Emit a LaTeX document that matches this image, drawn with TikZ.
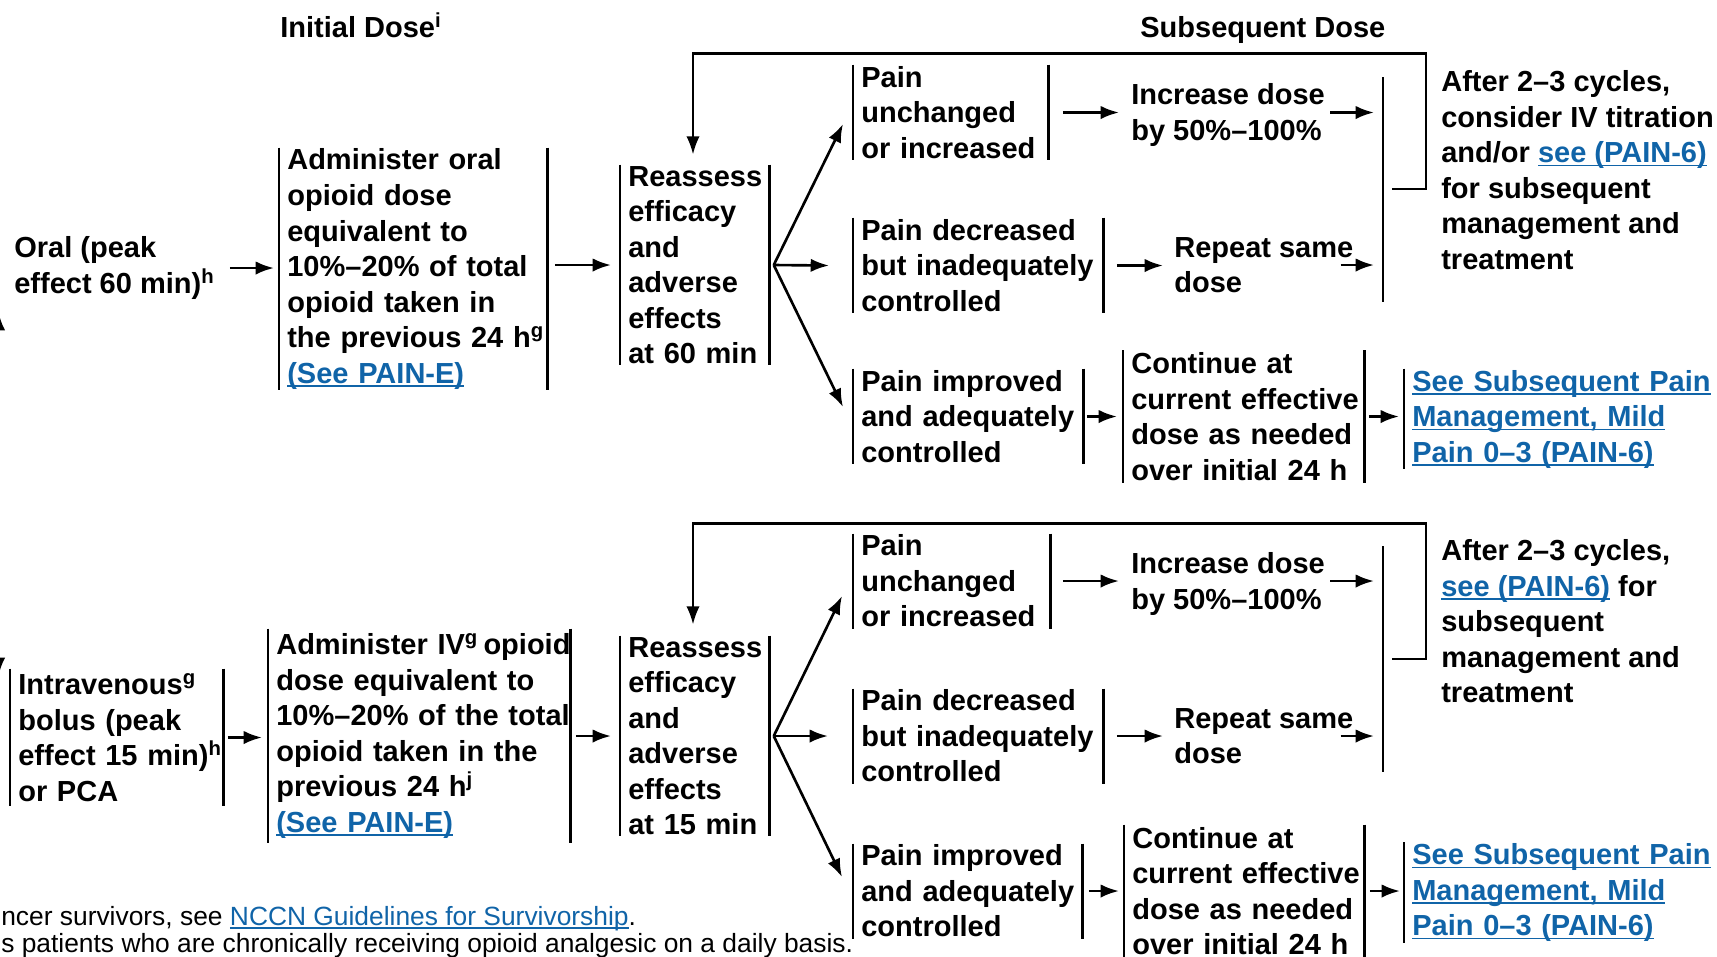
\documentclass[tikz,border=0pt]{standalone}
\usepackage{fontspec}
\setmainfont{Liberation Sans}
\usetikzlibrary{arrows.meta,calc}
\definecolor{nccnblue}{RGB}{16,100,168}
\newcommand\fsz{\fontsize{8.25}{10.1}\selectfont}
\newcommand\fnsz{\fontsize{7.5}{7.7}\selectfont}
\newcommand\lnk[1]{\leavevmode{\color{nccnblue}\setbox0\hbox{#1}\rlap{\rule[-1.1pt]{\wd0}{0.5pt}}\box0}}
\tikzset{
  txt/.style={font=\bfseries\fsz, align=left, inner sep=0pt},
  barline/.style={-, line width=0.75pt},
  barbox/.style={txt, anchor=west, inner xsep=0.07cm, text width=#1,
    append after command={(\tikzlastnode.north west) edge[barline] (\tikzlastnode.south west)
      ([xshift=-0.2cm]\tikzlastnode.north east) edge[barline] ([xshift=-0.2cm]\tikzlastnode.south east)}},
  lbox/.style={txt, anchor=west, inner xsep=0.07cm, text width=#1,
    append after command={(\tikzlastnode.north west) edge[barline] (\tikzlastnode.south west)}},
}
\begin{document}
\begin{tikzpicture}[x=0.01cm, y=-0.01cm, >={Latex[length=5.2pt,width=3.8pt]}, line width=0.75pt]
\useasboundingbox (0,0) rectangle (1717,956);
\clip (0,0) rectangle (1717,956);

\node[txt, anchor=base west] (hdrI) at (279,37) {Initial Dose\textsuperscript{i}};
\node[txt, anchor=base west] (hdrS) at (1139,37) {Subsequent Dose};

% oral
\node[txt, anchor=west] (oral) at (13,268) {Oral (peak\\effect 60 min)\textsuperscript{h}};
\node[barbox=2.72cm, minimum height=2.39cm] (admO) at (279,269) {Administer oral\\opioid dose\\equivalent to\\10\%--20\% of total\\opioid taken in\\the previous 24 h\textsuperscript{g}\\\lnk{(See PAIN-E)}};
\node[barbox=1.53cm, minimum height=1.98cm] (reaO) at (620,265) {Reassess\\efficacy\\and\\adverse\\effects\\at 60 min};
\node[barbox=1.99cm, minimum height=0.93cm] (unchO) at (853,112.5) {Pain\\unchanged\\or increased};
\node[txt, anchor=west] (incO) at (1130,115) {Increase dose\\by 50\%--100\%};
\node[barbox=2.54cm, minimum height=0.93cm] (decO) at (853,265.5) {Pain decreased\\but inadequately\\controlled};
\node[txt, anchor=west] (repO) at (1173,265) {Repeat same\\dose};
\node[barbox=2.34cm, minimum height=0.93cm] (impO) at (853,416.5) {Pain improved\\and adequately\\controlled};
\node[barbox=2.45cm, minimum height=1.30cm] (conO) at (1123,416.5) {Continue at\\current effective\\dose as needed\\over initial 24 h};
\node[lbox=3.2cm, minimum height=0.96cm] (seeO) at (1404,419) {\lnk{See Subsequent Pain}\\\lnk{Management, Mild}\\\lnk{Pain 0--3 (PAIN-6)}};
\node[txt, anchor=west] (aftO) at (1440,170) {After 2--3 cycles,\\consider IV titration\\and/or \lnk{see (PAIN-6)}\\for subsequent\\management and\\treatment};
\coordinate (colOt) at (1383,77);
\coordinate (colOb) at (1383,302);
\coordinate (loopO) at (1392,189);
\coordinate (edgeO) at (-1.5,312);

\draw[->] ($(edgeO)+(0,60)$) -- (edgeO);
\draw[->] ($(oral.east)+(13,0)$) -- ($(oral.east -| admO.west)+(-5,0)$);
\draw[->] ($(admO.east |- reaO)+(-13,0)$) -- ($(reaO.west)+(-9,0)$);
\draw[->] ($(reaO.east)+(-16,0)$) -- ($(unchO.west)+(-10,11.5)$);
\draw[->] ($(reaO.east)+(-16,0)$) -- ($(decO.west)+(-24,0)$);
\draw[->] ($(reaO.east)+(-16,0)$) -- ($(impO.west)+(-10,-9.5)$);
\draw[->] ($(unchO.east)+(-6,0)$) -- ($(unchO.east -| incO.west)+(-11,0)$);
\draw[->] ($(decO.east)+(-7,0)$) -- ($(repO.west |- decO)+(-10,0)$);
\draw[->] ($(impO.east)+(-17,0)$) -- ($(impO.east -| conO.west)+(-6,0)$);
\draw[->] ($(conO.east |- impO)+(-16,0)$) -- ($(seeO.west |- impO)+(-5,0)$);
\draw[->] ($(incO.east |- unchO)+(4,0)$) -- ($(colOt |- unchO)+(-9,0)$);
\draw[->] ($(repO.east)+(-14,0)$) -- ($(colOt |- repO)+(-9,0)$);
\draw (colOt) -- (colOb);
\draw[->] (loopO) -- ++(34,0) |- ($(reaO.north west)+(73,-111)$) -- ($(reaO.north west)+(73,-10)$);

% intravenous
\node[barbox=2.17cm, minimum height=1.35cm] (intI) at (10,737.5) {Intravenous\textsuperscript{g}\\bolus (peak\\effect 15 min)\textsuperscript{h}\\or PCA};
\node[barbox=3.06cm, minimum height=2.12cm] (admI) at (268,736) {Administer IV\textsuperscript{g}\hspace{-1.5pt} opioid\\dose equivalent to\\10\%--20\% of the total\\opioid taken in the\\previous 24 h\textsuperscript{j}\\\lnk{(See PAIN-E)}};
\node[barbox=1.53cm, minimum height=1.98cm] (reaI) at (620,736) {Reassess\\efficacy\\and\\adverse\\effects\\at 15 min};
\node[barbox=2.01cm, minimum height=0.92cm] (unchI) at (853,581) {Pain\\unchanged\\or increased};
\node[txt, anchor=west] (incI) at (1130,584) {Increase dose\\by 50\%--100\%};
\node[barbox=2.54cm, minimum height=0.92cm] (decI) at (853,736) {Pain decreased\\but inadequately\\controlled};
\node[txt, anchor=west] (repI) at (1173,736) {Repeat same\\dose};
\node[barbox=2.33cm, minimum height=0.92cm] (impI) at (853,891) {Pain improved\\and adequately\\controlled};
\node[barbox=2.44cm, minimum height=1.30cm] (conI) at (1124,891) {Continue at\\current effective\\dose as needed\\over initial 24 h};
\node[lbox=3.2cm, minimum height=0.95cm] (seeI) at (1404,892.5) {\lnk{See Subsequent Pain}\\\lnk{Management, Mild}\\\lnk{Pain 0--3 (PAIN-6)}};
\node[txt, anchor=west] (aftI) at (1440,621.5) {After 2--3 cycles,\\\lnk{see (PAIN-6)} for\\subsequent\\management and\\treatment};
\coordinate (colIt) at (1383,546);
\coordinate (colIb) at (1383,772);
\coordinate (loopI) at (1392,659);
\coordinate (edgeI) at (-1.5,676);

\draw[->] ($(edgeI)+(0,-60)$) -- (edgeI);
\draw[->] ($(intI.east)+(-16,0)$) -- ($(intI.east -| admI.west)+(-6,0)$);
\draw[->] ($(admI.east |- reaI)+(-15,0)$) -- ($(reaI.west)+(-9,0)$);
\draw[->] ($(reaI.east)+(-16,0)$) -- ($(unchI.west)+(-11,15)$);
\draw[->] ($(reaI.east)+(-16,0)$) -- ($(decI.west)+(-25,0)$);
\draw[->] ($(reaI.east)+(-16,0)$) -- ($(impI.west)+(-11,-14)$);
\draw[->] ($(unchI.east)+(-8,0)$) -- ($(unchI.east -| incI.west)+(-11,0)$);
\draw[->] ($(decI.east)+(-7,0)$) -- ($(repI.west |- decI)+(-10,0)$);
\draw[->] ($(impI.east)+(-14,0)$) -- ($(impI.east -| conI.west)+(-5,0)$);
\draw[->] ($(conI.east |- impI)+(-15,0)$) -- ($(seeI.west |- impI)+(-4,0)$);
\draw[->] ($(incI.east |- unchI)+(4,0)$) -- ($(colIt |- unchI)+(-9,0)$);
\draw[->] ($(repI.east)+(-14,0)$) -- ($(colIt |- repI)+(-9,0)$);
\draw (colIt) -- (colIb);
\draw[->] (loopI) -- ++(34,0) |- ($(reaI.north west)+(73,-112)$) -- ($(reaI.north west)+(73,-11)$);

\node[font=\fnsz, anchor=base west, inner sep=0pt] (fn1) at (0,925) {ncer survivors, see \lnk{NCCN Guidelines for Survivorship}.};
\node[font=\fnsz, anchor=base west, inner sep=0pt] (fn2) at (0,952) {s patients who are chronically receiving opioid analgesic on a daily basis.};
\end{tikzpicture}
\end{document}
